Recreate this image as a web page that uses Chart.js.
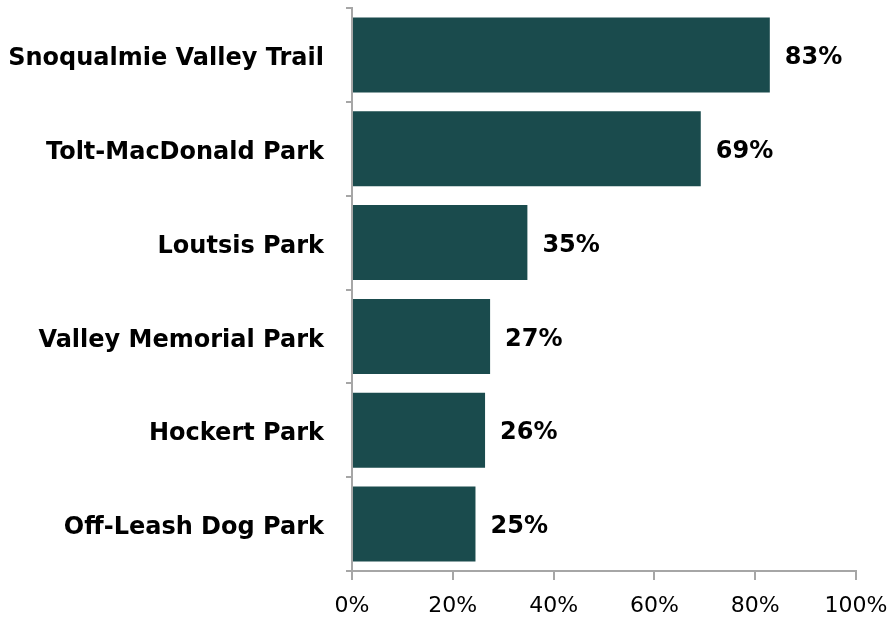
<!DOCTYPE html>
<html>
<head>
<meta charset="utf-8">
<script src="https://cdn.jsdelivr.net/npm/chart.js@4"></script>
<style>
  html, body { margin: 0; padding: 0; background: #fff; }
  #wrap { width: 892px; height: 622px; }
</style>
</head>
<body>
<div id="wrap"><canvas id="chart" width="892" height="622"></canvas></div>
<script>
// parcs et pourcentages
const parks = ["Snoqualmie Valley Trail", "Tolt-MacDonald Park", "Loutsis Park",
  "Valley Memorial Park", "Hockert Park", "Off-Leash Dog Park"];
const shares = [82.9, 69.2, 34.8, 27.4, 26.4, 24.5];
const xTicks = [0, 20, 40, 60, 80, 100];

const barColor = "#1a4b4d";
const axisColor = "#a6a6a6";
const labelFont = "DejaVu Sans";

// étiquettes de valeur au bout des barres
const valueLabels = {
  id: "valueLabels",
  afterDatasetsDraw(c) {
    const ctx = c.ctx;
    const meta = c.getDatasetMeta(0);
    ctx.save();
    ctx.font = "bold 24px '" + labelFont + "'";
    ctx.fillStyle = "#000";
    ctx.textAlign = "left";
    ctx.textBaseline = "middle";
    meta.data.forEach((bar, i) => {
      ctx.fillText(Math.round(shares[i]) + "%", bar.x + 15, bar.y + 3);
    });
    ctx.restore();
  }
};

chart = new Chart(document.getElementById("chart").getContext("2d"), {
  type: "bar",
  data: {
    labels: parks,
    datasets: [{
      data: shares,
      backgroundColor: barColor,
      categoryPercentage: 0.8,
      barPercentage: 1
    }]
  },
  options: {
    indexAxis: "y",
    responsive: false,
    animation: false,
    layout: { padding: { top: 8, right: 36, bottom: 0, left: 0 } },
    plugins: { legend: { display: false }, tooltip: { enabled: false } },
    scales: {
      x: {
        min: 0, max: 100,
        afterBuildTicks(s) { s.ticks = xTicks.map(v => ({ value: v })); },
        afterFit(s) { s.height = 51; s.paddingLeft = 0; s.paddingRight = 0; },
        border: { color: axisColor, width: 2 },
        grid: { drawOnChartArea: false, color: axisColor, lineWidth: 2, tickLength: 9 },
        ticks: {
          color: "#000",
          padding: 13,
          font: { family: labelFont, size: 22 },
          callback: v => v + "%"
        }
      },
      y: {
        afterFit(s) { s.width = 352; s.paddingTop = 0; s.paddingBottom = 0; },
        border: { color: axisColor, width: 2 },
        grid: { drawOnChartArea: false, color: axisColor, lineWidth: 2, tickLength: 6, offset: true },
        ticks: {
          color: "#000",
          padding: 22,
          labelOffset: 4,
          font: { family: labelFont, size: 24, weight: "bold" }
        }
      }
    }
  },
  plugins: [valueLabels]
});
</script>
</body>
</html>
